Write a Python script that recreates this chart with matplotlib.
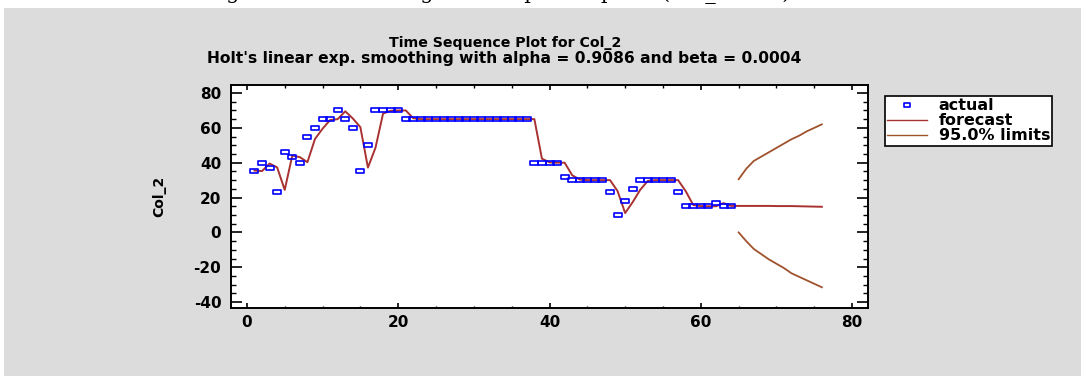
import matplotlib
matplotlib.use("Agg")
import matplotlib.pyplot as plt
from matplotlib.patches import Rectangle
from matplotlib.path import Path
from matplotlib.lines import Line2D
from matplotlib.ticker import MultipleLocator

plt.rcParams["axes.unicode_minus"] = False

# --- данные ---
t_actual = list(range(1, 65))
actual = [35, 40, 37, 23, 46, 43, 40, 55, 60, 65,
          65, 70, 65, 60, 35, 50, 70, 70, 70, 70,
          65, 65, 65, 65, 65, 65, 65, 65, 65, 65,
          65, 65, 65, 65, 65, 65, 65, 40, 40, 40,
          40, 32, 30, 30, 30, 30, 30, 23, 10, 18,
          25, 30, 30, 30, 30, 30, 23, 15, 15, 15,
          15, 17, 15, 15]

t_forecast = list(range(1, 77))
forecast = [35.5, 35.2, 39.5, 37.3, 24.4, 44.1, 43.2, 40.3, 53.6, 59.5,
            64.5, 65.0, 69.5, 65.4, 60.4, 37.2, 48.6, 68.2, 69.8, 70.0,
            70.0, 65.5, 65.0, 65.0, 65.0, 65.0, 65.0, 65.0, 65.0, 65.0,
            65.0, 65.0, 65.0, 65.0, 65.0, 65.0, 65.0, 65.0, 42.3, 40.2,
            40.0, 40.0, 32.8, 30.3, 30.0, 30.0, 30.0, 30.0, 23.7, 11.1,
            17.4, 24.5, 29.6, 30.0, 30.0, 30.0, 30.0, 23.7, 15.7, 15.1,
            15.0, 15.0, 16.8, 15.2,
            15.2, 15.2, 15.2, 15.2, 15.2, 15.1, 15.1, 15.1, 15.0, 14.9,
            14.8, 14.7]

t_limits = list(range(65, 77))
upper = [30.5, 36.5, 41.0, 43.5, 46.0, 48.5, 51.0, 53.5, 55.5, 58.0, 60.0, 62.0]
lower = [0.0, -5.0, -9.5, -12.5, -15.5, -18.0, -20.5, -23.5, -25.5, -27.5, -29.5, -31.5]

W, H = 1081, 376
BOLD = dict(fontweight="bold", family="DejaVu Sans")

fig = plt.figure(figsize=(W / 100, H / 100), dpi=100)
fig.patch.set_facecolor("white")

# серый фон панели
fig.add_artist(Rectangle((4 / W, 0), 1 - 4 / W, (H - 8) / H,
                         transform=fig.transFigure, facecolor="#dcdcdc",
                         edgecolor="none", zorder=-10))

# обрезанная строка текста документа над рисунком (видны только нижние выносные)
fig.text(205 / W, 1 + 0.5 / H, "Figure 3  Forecasting time sequence plot   (Col_2 data)",
         family="DejaVu Serif", fontsize=15, va="baseline", ha="left", color="black")

ax = fig.add_axes([231 / W, (H - 308) / H, (868 - 231) / W, (308 - 85) / H])
ax.set_facecolor("white")

rect = Path([(-1, -0.6), (1, -0.6), (1, 0.6), (-1, 0.6), (-1, -0.6)],
            [Path.MOVETO, Path.LINETO, Path.LINETO, Path.LINETO, Path.CLOSEPOLY])

FC_COLOR = "#a83232"
LIM_COLOR = "#a0522d"

ax.plot(t_forecast, forecast, color=FC_COLOR, lw=1.4, zorder=2)
ax.plot(t_limits, upper, color=LIM_COLOR, lw=1.3, zorder=2)
ax.plot(t_limits, lower, color=LIM_COLOR, lw=1.3, zorder=2)
ax.plot(t_actual, actual, ls="none", marker=rect, ms=5.5, mfc="none",
        mec="#0000ff", mew=1.2, zorder=3)

ax.set_xlim(-2.1, 82.1)
ax.set_ylim(-43.4, 84.6)
ax.xaxis.set_major_locator(MultipleLocator(20))
ax.xaxis.set_minor_locator(MultipleLocator(5))
ax.yaxis.set_major_locator(MultipleLocator(20))
ax.yaxis.set_minor_locator(MultipleLocator(5))

for s in ax.spines.values():
    s.set_linewidth(1.4)

ax.tick_params(axis="y", which="major", direction="in", length=8, width=1.2,
               left=True, right=True, pad=7)
ax.tick_params(axis="y", which="minor", direction="in", length=3.3, width=1.0,
               left=True, right=True)
ax.tick_params(axis="x", which="major", direction="in", length=3.6, width=1.2,
               bottom=True, top=True, pad=5)
ax.tick_params(axis="x", which="minor", direction="in", length=1.8, width=1.0,
               bottom=True, top=True)
for lab in ax.get_xticklabels() + ax.get_yticklabels():
    lab.set_fontweight("bold")
    lab.set_fontsize(11)

ax.set_ylabel("Col_2", fontsize=10, labelpad=0, **BOLD)
ax.yaxis.set_label_coords(166 / W, 1 - 196 / H, transform=fig.transFigure)

fig.text(505 / W, 1 - 43 / H, "Time Sequence Plot for Col_2", ha="center",
         va="center", fontsize=10.2, **BOLD)
fig.text(504 / W, 1 - 58 / H,
         "Holt's linear exp. smoothing with alpha = 0.9086 and beta = 0.0004",
         ha="center", va="center", fontsize=11.2, **BOLD)

handles = [
    Line2D([], [], ls="none", marker=rect, ms=5, mfc="none", mec="#0000ff", mew=1.2),
    Line2D([], [], color=FC_COLOR, lw=1.0),
    Line2D([], [], color=LIM_COLOR, lw=1.0),
]
leg = ax.legend(handles, ["actual", "forecast", "95.0% limits"],
                loc="upper left", bbox_to_anchor=(885 / W, 1 - 96 / H),
                bbox_transform=fig.transFigure, frameon=True, fancybox=False,
                framealpha=1, edgecolor="black", borderpad=0.15,
                labelspacing=0.0, handlelength=2.5, handletextpad=0.7,
                borderaxespad=0, prop=dict(weight="bold", size=11.5))
leg.get_frame().set_linewidth(1.2)

fig.savefig("out.png", dpi=100)
